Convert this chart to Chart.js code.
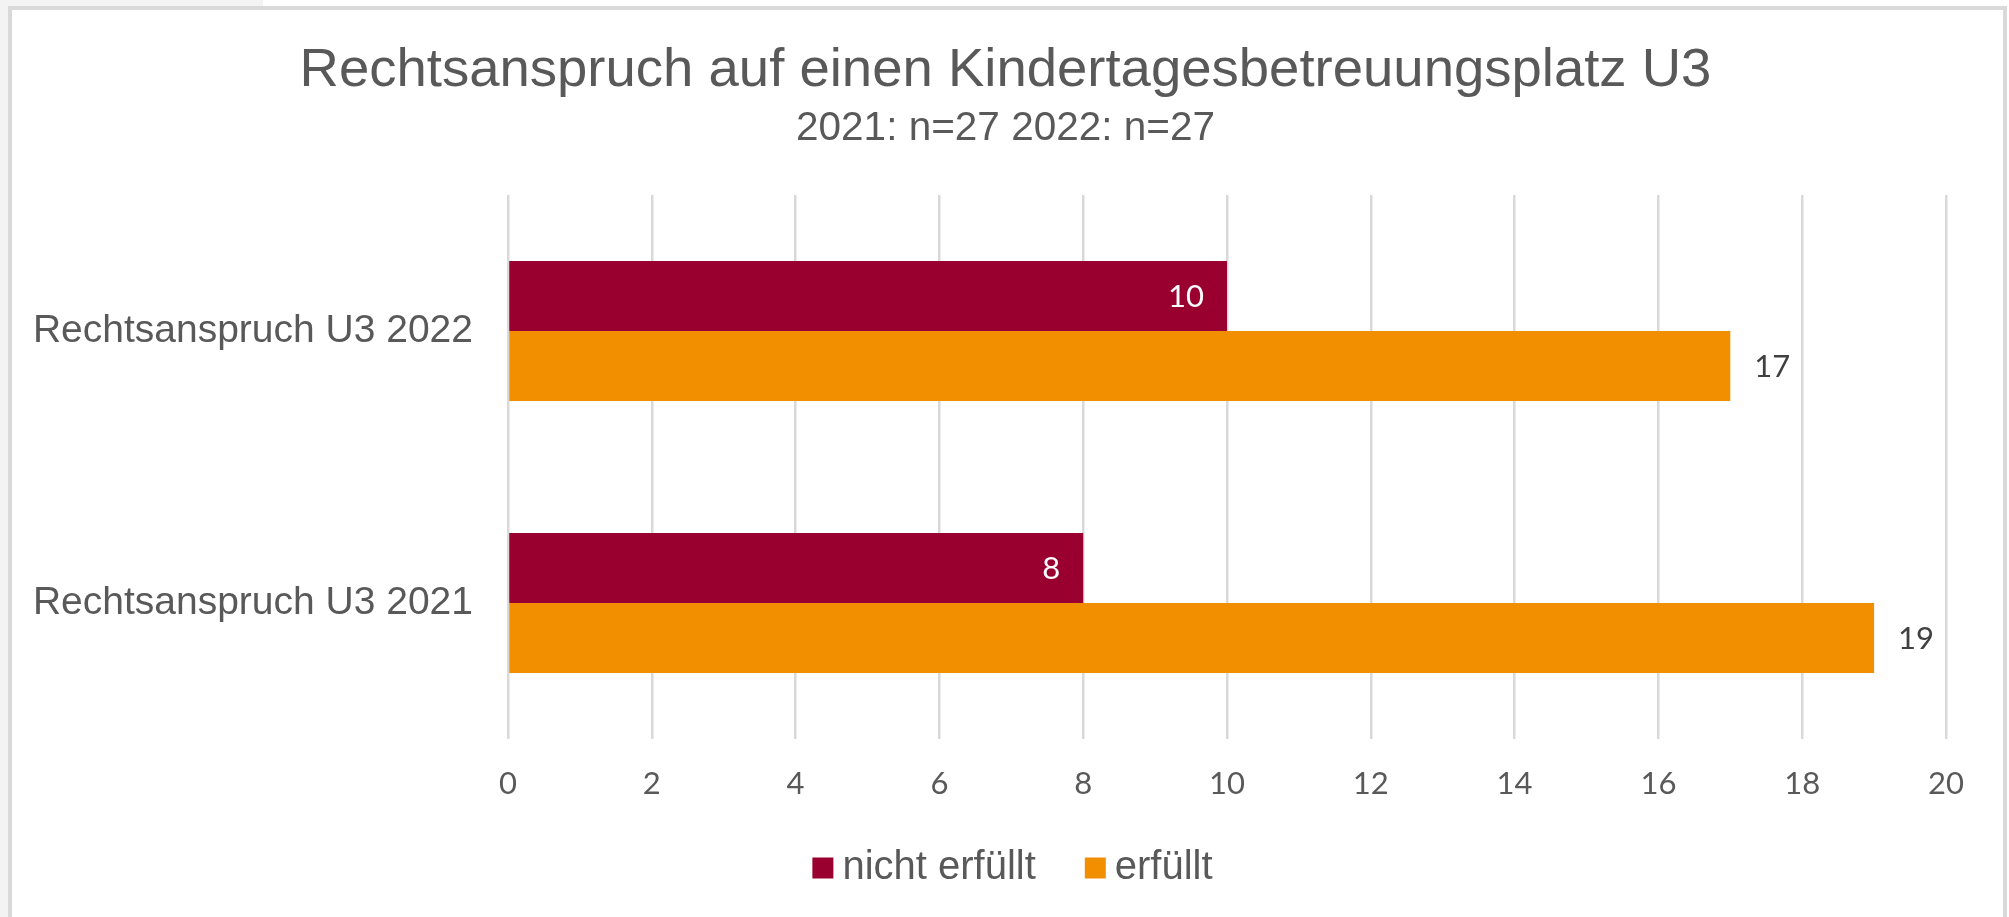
<!DOCTYPE html>
<html>
<head>
<meta charset="utf-8">
<script src="https://cdn.jsdelivr.net/npm/chart.js@4/dist/chart.umd.min.js"></script>
<style>
  html, body { margin:0; padding:0; background:#ffffff; }
  #wrap { position:relative; width:2009px; height:917px; overflow:hidden; }
  .deco { position:absolute; }
</style>
</head>
<body>
<div id="wrap">
  <div class="deco" style="left:0;top:0;width:8px;height:917px;background:#f3f3f3"></div>
  <div class="deco" style="left:0;top:0;width:263px;height:6px;background:#f3f3f3"></div>
  <div class="deco" style="left:8px;top:6px;width:1999px;height:911px;border:4px solid #d9d9d9;border-bottom:none;box-sizing:border-box"></div>
  <canvas id="c" width="2009" height="917" style="position:absolute;left:0;top:0"></canvas>
</div>
<script>
const categories = ["Rechtsanspruch U3 2022", "Rechtsanspruch U3 2021"];
const seriesNames = ["nicht erfüllt", "erfüllt"];
const nichtErfuellt = [10, 8];
const erfuellt = [17, 19];
const xTicks = [0, 2, 4, 6, 8, 10, 12, 14, 16, 18, 20];
const titleText = "Rechtsanspruch auf einen Kindertagesbetreuungsplatz U3";
const subtitleText = "2021: n=27 2022: n=27";

const COLORS = ["#990030", "#f18f00"];
const TEXT = "#595959";

const dataLabels = {
  id: "dataLabels",
  afterDatasetsDraw(chart) {
    const ctx = chart.ctx;
    ctx.save();
    ctx.font = "31px Lato";
    ctx.textBaseline = "middle";
    chart.data.datasets.forEach((ds, di) => {
      const meta = chart.getDatasetMeta(di);
      meta.data.forEach((bar, i) => {
        const v = ds.data[i];
        if (di === 0) {
          ctx.fillStyle = "#ffffff";
          ctx.textAlign = "right";
          ctx.fillText(String(v), bar.x - 23, bar.y + 1);
        } else {
          ctx.fillStyle = "#404040";
          ctx.textAlign = "left";
          ctx.fillText(String(v), bar.x + 24, bar.y + 1);
        }
      });
    });
    ctx.restore();
  }
};

const customLegend = {
  id: "customLegend",
  afterDraw(chart) {
    const ctx = chart.ctx;
    ctx.save();
    ctx.font = "40px 'Liberation Sans'";
    ctx.textBaseline = "middle";
    ctx.textAlign = "left";
    const box = 21, gap = 9, itemGap = 49;
    const items = chart.data.datasets.map(ds => ({ label: ds.label, color: ds.backgroundColor, w: ctx.measureText(ds.label).width }));
    let total = 0;
    items.forEach((it, i) => { total += box + gap + it.w + (i < items.length - 1 ? itemGap : 0); });
    let x = chart.width / 2 + 8 - total / 2;
    const cy = chart.height - 49;
    items.forEach(it => {
      ctx.fillStyle = it.color;
      ctx.fillRect(x, cy - box / 2, box, box);
      x += box + gap;
      ctx.fillStyle = TEXT;
      ctx.fillText(it.label, x, cy);
      x += it.w + itemGap;
    });
    ctx.restore();
  }
};

new Chart(document.getElementById("c"), {
  type: "bar",
  data: {
    labels: categories,
    datasets: [
      { label: seriesNames[0], data: nichtErfuellt, backgroundColor: COLORS[0], borderWidth: 0, categoryPercentage: 0.515, barPercentage: 1 },
      { label: seriesNames[1], data: erfuellt, backgroundColor: COLORS[1], borderWidth: 0, categoryPercentage: 0.515, barPercentage: 1 }
    ]
  },
  options: {
    indexAxis: "y",
    responsive: false,
    animation: false,
    devicePixelRatio: 1,
    layout: { padding: { left: 34, right: 32, top: 0, bottom: 78 } },
    scales: {
      x: {
        min: 0, max: 20,
        afterBuildTicks(scale) { scale.ticks = xTicks.map(v => ({ value: v })); },
        afterFit(scale) { scale.height = 100; },
        grid: { color: "#d9d9d9", lineWidth: 2.5, drawTicks: false },
        border: { display: false },
        ticks: { font: { family: "Lato", size: 31 }, color: TEXT, padding: 26 }
      },
      y: {
        afterFit(scale) { scale.width = 474; },
        grid: { display: false, drawTicks: false },
        border: { display: false },
        ticks: { font: { family: "'Liberation Sans'", size: 39 }, color: TEXT, padding: 35 }
      },
      yRight: {
        type: "category",
        position: "right",
        afterFit(scale) { scale.width = 31; },
        grid: { display: false, drawTicks: false },
        border: { display: false },
        ticks: { display: false }
      }
    },
    plugins: {
      legend: { display: false },
      tooltip: { enabled: false },
      title: { display: true, text: titleText, color: TEXT, font: { family: "'Liberation Sans'", size: 54.5, weight: "normal" }, padding: { top: 38, bottom: 0 } },
      subtitle: { display: true, text: subtitleText, color: TEXT, font: { family: "'Liberation Sans'", size: 40.5, weight: "normal" }, padding: { top: 1, bottom: 42 } }
    }
  },
  plugins: [dataLabels, customLegend]
});
</script>
</body>
</html>
